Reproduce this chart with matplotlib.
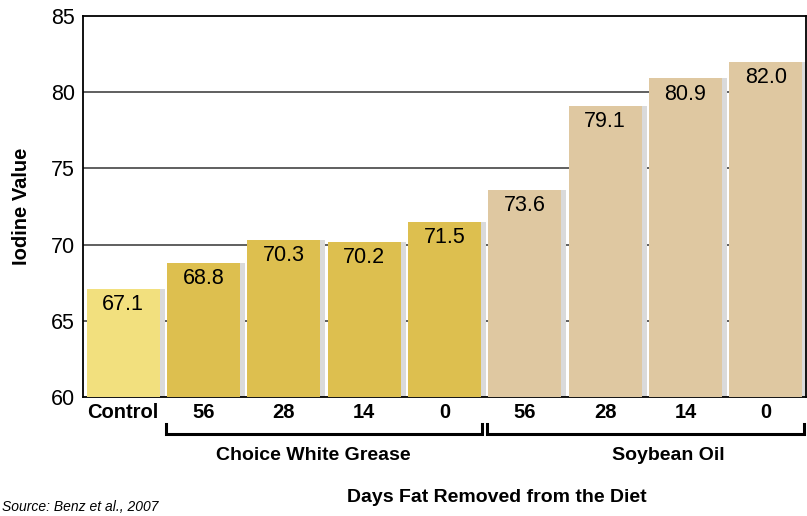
import matplotlib
matplotlib.use("Agg")
import matplotlib.pyplot as plt
from matplotlib import font_manager as fm
import matplotlib.transforms as mtrans

categories = ["Control", "56", "28", "14", "0", "56", "28", "14", "0"]
values = [67.1, 68.8, 70.3, 70.2, 71.5, 73.6, 79.1, 80.9, 82.0]
groups = ["Control", "CWG", "CWG", "CWG", "CWG", "SBO", "SBO", "SBO", "SBO"]
group_labels = {"CWG": "Choice White Grease", "SBO": "Soybean Oil"}
yticks = [60, 65, 70, 75, 80, 85]

colors = {"Control": "#F2E07E", "CWG": "#DDBF4F", "SBO": "#DFC8A1"}
label_shift = {"CWG": -0.13, "SBO": 0.29}

names = {f.name for f in fm.fontManager.ttflist}
fam = "Liberation Sans Narrow" if "Liberation Sans Narrow" in names else "Liberation Sans"
plt.rcParams["font.family"] = [fam, "DejaVu Sans"]

fig = plt.figure(figsize=(8.07, 5.16), dpi=100)
ax = fig.add_axes([83/807, 1-397/516, (806-83)/807, (397-16)/516])

x = list(range(len(values)))
w = 0.91
# shadows
ax.bar([i + 0.06 for i in x], [v - 60 for v in values], bottom=60, width=w,
       color="#dadada", zorder=2, linewidth=0)
ax.bar(x, [v - 60 for v in values], bottom=60, width=w,
       color=[colors[g] for g in groups], zorder=3, linewidth=0)
for i, v in zip(x, values):
    ax.text(i, v - 0.35, f"{v:.1f}", ha="center", va="top", fontsize=15.5, zorder=4)

ax.set_xlim(-0.5, len(values) - 0.5)
ax.set_ylim(60, 85)
ax.set_yticks(yticks)
ax.set_yticklabels([str(t) for t in yticks], fontsize=15.5)
ax.tick_params(axis="y", length=0, pad=6)
ax.tick_params(axis="x", length=0, pad=4)
ax.set_xticks(x)
ax.set_xticklabels(categories, fontsize=14.5, fontweight="bold")
for t in yticks[1:-1]:
    ax.axhline(t, color="#444444", linewidth=1.2, zorder=1)
for s in ax.spines.values():
    s.set_linewidth(1.3)
    s.set_color("black")

ax.set_ylabel("Iodine Value", fontsize=14.5, fontweight="bold", labelpad=14)

trans = mtrans.blended_transform_factory(ax.transData, ax.transAxes)
for g in ["CWG", "SBO"]:
    idx = [i for i, gg in enumerate(groups) if gg == g]
    x0 = idx[0] - 0.47
    x1 = idx[-1] + 0.47
    yb, yt = -0.097, -0.07
    ax.plot([x0, x0, x1, x1], [yt, yb, yb, yt], transform=trans, color="black",
            linewidth=2.2, clip_on=False, solid_joinstyle="miter")
    ax.text((idx[0] + idx[-1]) / 2 + label_shift[g], -0.13, group_labels[g], transform=trans,
            ha="center", va="top", fontsize=14, fontweight="bold")

fig.text(497/807, 1-498/516, "Days Fat Removed from the Diet", ha="center", va="center",
         fontsize=14, fontweight="bold")
fig.text(0.002, 0.003, "Source: Benz et al., 2007", ha="left", va="bottom",
         fontsize=10, style="italic")

fig.savefig("out.png", dpi=100)
